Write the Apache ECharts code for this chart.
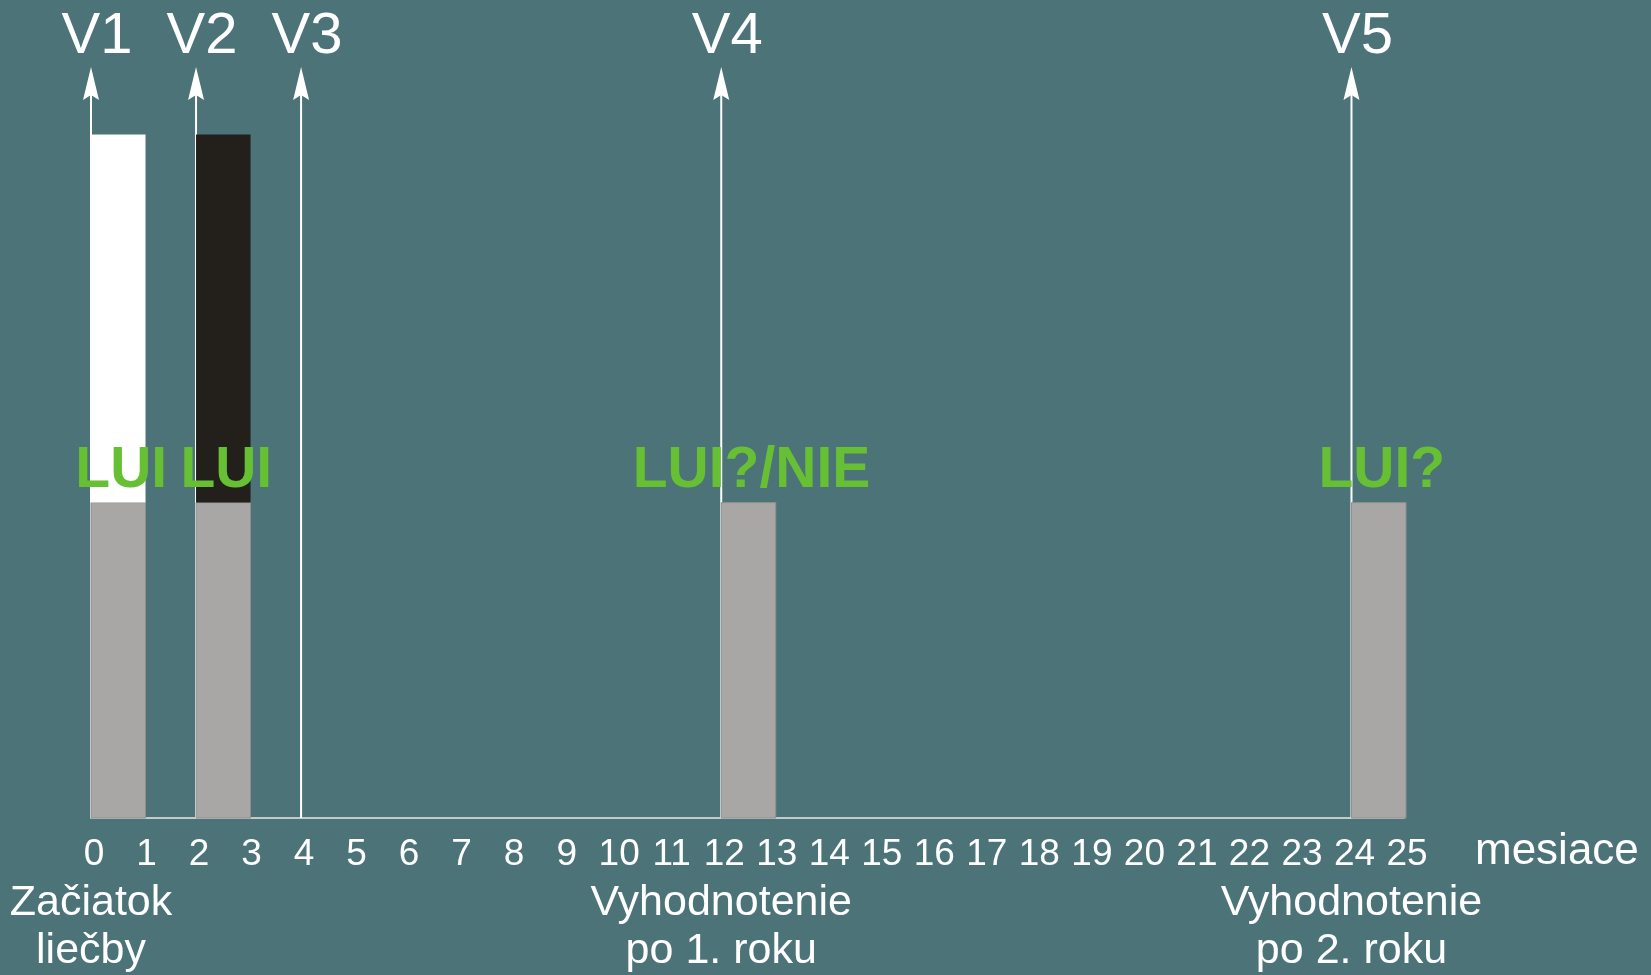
<!DOCTYPE html>
<html>
<head>
<meta charset="utf-8">
<script src="https://cdn.jsdelivr.net/npm/echarts@6/dist/echarts.min.js"></script>
<style>
html, body { margin: 0; padding: 0; background: #4b7378; }
#chart { width: 1651px; height: 975px; }
</style>
</head>
<body>
<div id="chart"></div>
<script>
// návštevy (šípky)
var visitNames = ['V1', 'V2', 'V3', 'V4', 'V5'];
var visitMonths = [0, 2, 4, 12, 24];

// stĺpce - začiatok mesiaca, spodná (sivá) a horná časť
var barMonths = [0, 2, 12, 24];
var barLower = [42, 42, 42, 42];
var barUpper = [49, 49, 0, 0];
var barLabels = ['LUI', 'LUI', 'LUI?/NIE', 'LUI?'];

// popisky pod osou
var noteMonths = [0, 12, 24];
var noteTexts = ['Začiatok\nliečby', 'Vyhodnotenie\npo 1. roku', 'Vyhodnotenie\npo 2. roku'];

var upperColors = ['#ffffff', '#23201c', null, null];
var FONT = '"Liberation Sans", Arial, sans-serif';

var myChart = echarts.init(document.getElementById('chart'));

var visitData = visitMonths.map(function (m, i) { return [m, 100, visitNames[i]]; });
var barData = barMonths.map(function (m, i) { return [m, barLower[i], barUpper[i], barLabels[i]]; });

var option = {
    backgroundColor: '#4b7378',
    animation: false,
    grid: { left: 91, right: 247, top: 67, bottom: 157 },
    xAxis: [{
        type: 'value',
        min: 0, max: 25, interval: 1,
        name: 'mesiace',
        nameLocation: 'end',
        nameGap: 71,
        nameTextStyle: {
            color: '#ffffff', fontSize: 44, fontFamily: FONT,
            verticalAlign: 'top', lineHeight: 44, padding: [12, 0, 0, 0]
        },
        splitLine: { show: false },
        axisTick: { show: false },
        axisLine: { lineStyle: { color: '#c3caca', width: 2 } },
        axisLabel: { color: '#ffffff', fontSize: 37, fontFamily: FONT, margin: 18, padding: [0, 0, 0, 6] }
    }, {
        type: 'value',
        position: 'bottom',
        offset: 0,
        min: 0, max: 25, interval: 1,
        splitLine: { show: false },
        axisTick: { show: false },
        axisLine: { show: false },
        axisLabel: {
            color: '#ffffff', fontSize: 43, fontFamily: FONT, margin: 61, lineHeight: 48,
            formatter: function (v) {
                var idx = noteMonths.indexOf(v);
                return idx >= 0 ? noteTexts[idx] : '';
            }
        }
    }],
    yAxis: { type: 'value', min: 0, max: 100, show: false },
    series: [
        {
            // šípky návštev
            type: 'custom',
            z: 1,
            data: visitData,
            encode: { x: 0, y: 1 },
            renderItem: function (params, api) {
                var base = api.coord([api.value(0), 0]);
                var tip = api.coord([api.value(0), api.value(1)]);
                var x = base[0];
                return {
                    type: 'group',
                    children: [{
                        type: 'line',
                        shape: { x1: x, y1: base[1], x2: x, y2: tip[1] + 28 },
                        style: { stroke: '#ffffff', lineWidth: 2 }
                    }, {
                        type: 'polygon',
                        shape: { points: [[x, tip[1]], [x + 8, tip[1] + 33], [x, tip[1] + 28], [x - 8, tip[1] + 33]] },
                        style: { fill: '#ffffff' }
                    }, {
                        type: 'text',
                        x: x + 6,
                        y: tip[1] - 1,
                        style: {
                            text: api.value(2), fill: '#ffffff', fontSize: 58, fontFamily: FONT,
                            align: 'center', verticalAlign: 'bottom'
                        }
                    }]
                };
            }
        },
        {
            // stĺpce
            type: 'custom',
            z: 2,
            data: barData,
            encode: { x: 0, y: 1 },
            renderItem: function (params, api) {
                var m = api.value(0);
                var low = api.value(1);
                var up = api.value(2);
                var p0 = api.coord([m, 0]);
                var p1 = api.coord([m + 1, low]);
                var p2 = api.coord([m + 1, low + up]);
                var w = p1[0] - p0[0] + 2;
                var children = [{
                    type: 'rect',
                    shape: { x: p0[0], y: p1[1], width: w, height: p0[1] - p1[1] },
                    style: { fill: '#a8a7a5', stroke: '#8f8f8d', lineWidth: 1 }
                }];
                if (up > 0) {
                    children.push({
                        type: 'rect',
                        shape: { x: p0[0], y: p2[1], width: w, height: p1[1] - p2[1] },
                        style: { fill: upperColors[params.dataIndex] }
                    });
                }
                children.push({
                    type: 'text',
                    x: p0[0] + w / 2 + 3,
                    y: p1[1] - 3,
                    style: {
                        text: api.value(3), fill: '#67bf33', fontSize: 57, fontWeight: 'bold',
                        fontFamily: FONT, align: 'center', verticalAlign: 'bottom'
                    }
                });
                return { type: 'group', children: children };
            }
        }
    ]
};

myChart.setOption(option);
</script>
</body>
</html>
